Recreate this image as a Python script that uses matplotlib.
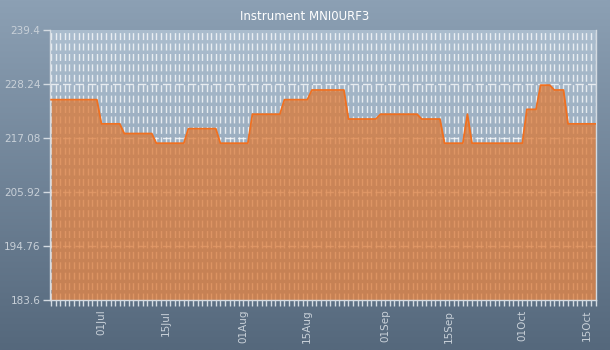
import numpy as np
import pandas as pd
import matplotlib
matplotlib.use("Agg")
import matplotlib.pyplot as plt
import matplotlib.dates as mdates

# =========================
# DATA
# =========================
title = "Instrument MNI0URF3"
start_date = "2013-06-20"
values = [
    225, 225, 225, 225, 225, 225, 225, 225, 225, 225, 225,   # 20-30 Jun
    220, 220, 220, 220, 220,                                   # 01-05 Jul
    218, 218, 218, 218, 218, 218, 218,                         # 06-12 Jul
    216, 216, 216, 216, 216, 216, 216,                         # 13-19 Jul
    219, 219, 219, 219, 219, 219, 219,                         # 20-26 Jul
    216, 216, 216, 216, 216, 216, 216,                         # 27 Jul-02 Aug
    222, 222, 222, 222, 222, 222, 222,                         # 03-09 Aug
    225, 225, 225, 225, 225, 225,                              # 10-15 Aug
    227, 227, 227, 227, 227, 227, 227, 227,                    # 16-23 Aug
    221, 221, 221, 221, 221, 221, 221,                         # 24-30 Aug
    222, 222, 222, 222, 222, 222, 222, 222, 222,               # 31 Aug-08 Sep
    221, 221, 221, 221, 221,                                   # 09-13 Sep
    216, 216, 216, 216, 216,                                   # 14-18 Sep
    222,                                                       # 19 Sep
    216, 216, 216, 216, 216, 216, 216, 216, 216, 216, 216, 216,  # 20 Sep-01 Oct
    223, 223, 223,                                             # 02-04 Oct
    228, 228, 228,                                             # 05-07 Oct
    227, 227, 227,                                             # 08-10 Oct
    220, 220, 220, 220, 220, 220, 220,                         # 11-17 Oct
]
y_ticks = [183.6, 194.76, 205.92, 217.08, 228.24, 239.4]
y_labels = ["183.6", "194.76", "205.92", "217.08", "228.24", "239.4"]

dates = pd.date_range(start_date, periods=len(values), freq="D")

# =========================
# FIGURE
# =========================
fig = plt.figure(figsize=(6.1, 3.5), dpi=100)

# figure background gradient
bg = fig.add_axes([0, 0, 1, 1], zorder=-10)
grad = np.linspace(0, 1, 256).reshape(-1, 1)
top_c = np.array([0x8c, 0xa0, 0xb4]) / 255
bot_c = np.array([0x55, 0x68, 0x7c]) / 255
img = top_c + (bot_c - top_c) * grad[..., None]
bg.imshow(img, aspect="auto", extent=[0, 1, 0, 1])
bg.axis("off")

ax = fig.add_axes([50 / 610, 1 - 300 / 350, 545.5 / 610, 270 / 350])
ax.set_facecolor("none")

# plot area gradient
p_top = np.array([0xab, 0xbd, 0xce]) / 255
p_bot = np.array([0x86, 0x99, 0xad]) / 255
pimg = p_top + (p_bot - p_top) * grad[..., None]
ax.imshow(pimg, aspect="auto", extent=[0, 1, 0, 1], transform=ax.transAxes, zorder=0)

# grid
for d in dates:
    ax.axvline(d, color="white", alpha=0.75, lw=1, dashes=(5, 2.5), zorder=1)
for yt in y_ticks[1:-1]:
    ax.axhline(yt, color="white", alpha=0.75, lw=1, dashes=(6, 3), zorder=1)

# series
ax.fill_between(dates, values, y_ticks[0], color="#dc7936", alpha=0.75, lw=0, zorder=2)
ax.plot(dates, values, color="#f07020", lw=1.3, zorder=3)

ax.set_xlim(dates[0] - pd.Timedelta(hours=6), dates[-1])
ax.set_ylim(y_ticks[0], y_ticks[-1])

# axes styling
light = "#d4dbe2"
ax.set_yticks(y_ticks)
ax.set_yticklabels(y_labels)
ax.xaxis.set_major_locator(mdates.DayLocator(bymonthday=[1, 15]))
ax.xaxis.set_major_formatter(mdates.DateFormatter("%d%b"))
ax.xaxis.set_minor_locator(mdates.DayLocator())
ax.tick_params(axis="x", which="both", colors=light, length=4, width=1, labelsize=7.5,
               labelrotation=90, pad=3)
ax.tick_params(axis="y", colors=light, length=5, width=1, labelsize=7.5, pad=2)
for lbl in ax.get_xticklabels() + ax.get_yticklabels():
    lbl.set_color("#c8d0d8")

for side in ["left", "bottom", "right"]:
    ax.spines[side].set_color(light)
    ax.spines[side].set_linewidth(1)
ax.spines["top"].set_visible(False)

fig.text(0.5, 1 - 17 / 350, title, ha="center", va="center", color="white", fontsize=8.5)

fig.savefig("out.png", dpi=100)
